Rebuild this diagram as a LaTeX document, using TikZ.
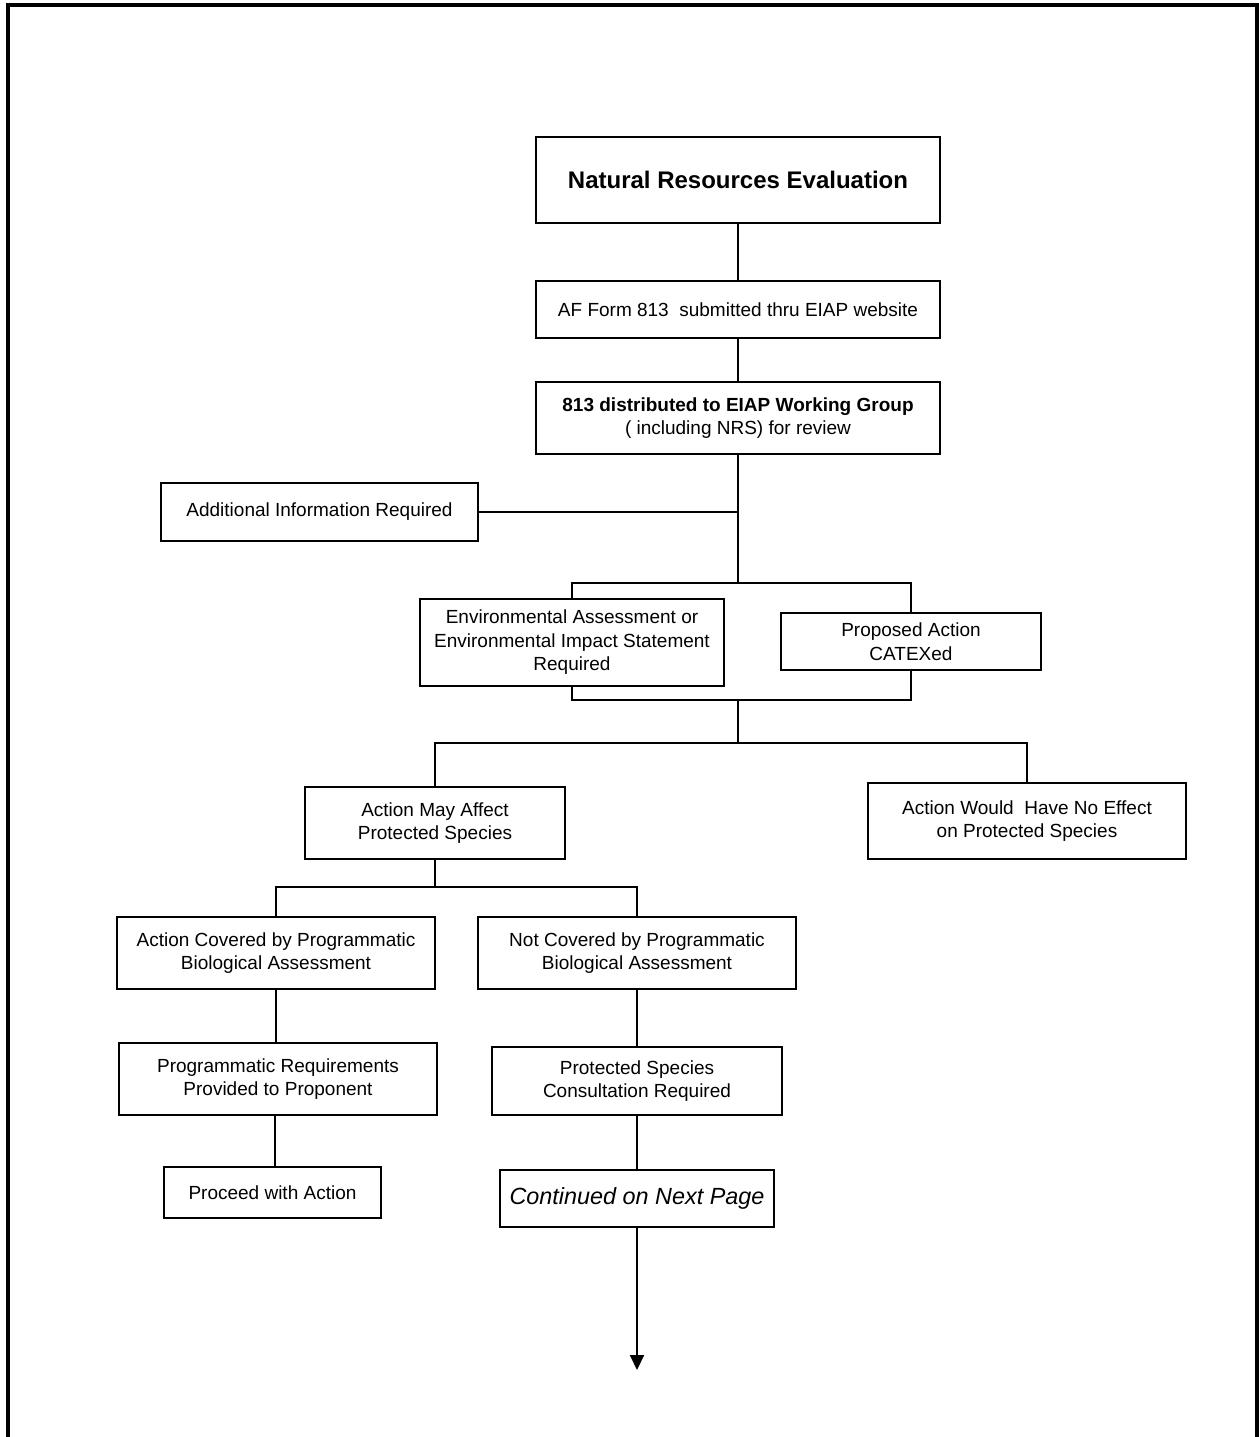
\documentclass[tikz,border=0pt]{standalone}
\usepackage{fontspec}
\setmainfont{Liberation Sans}
\usetikzlibrary{arrows.meta}

\begin{document}
\begin{tikzpicture}[x=0.5pt,y=-0.5pt,
  box/.style={draw,line width=1pt,align=center,inner sep=0pt,font=\fontsize{9.5}{11.75}\selectfont},
  link/.style={line width=1pt}]
\useasboundingbox (0,0) rectangle (1259,1437);
% page frame, open at the bottom
\draw[line width=2pt] (7.5,1437) -- (7.5,4.5) -- (1257,4.5) -- (1257,1437);

\node[box,minimum width=202pt,minimum height=43pt,font=\fontsize{12}{14}\selectfont\bfseries] at (738,180) (nre) {Natural Resources Evaluation};
\node[box,minimum width=202pt,minimum height=28.5pt] at (738,309.5) (form) {AF Form 813\ \ submitted thru EIAP website};
\node[box,minimum width=202pt,minimum height=36pt] at (738,418) (dist) {\textbf{813 distributed to EIAP Working Group}\\( including NRS) for review};
\node[box,minimum width=158.5pt,minimum height=29pt] at (319.5,512) (info) {Additional Information Required};
\node[box,minimum width=152pt,minimum height=43.5pt] at (572,642.5) (ea) {Environmental Assessment or\\Environmental Impact Statement\\Required};
\node[box,minimum width=130pt,minimum height=28.5pt] at (911,641.5) (catex) {Proposed Action\\CATEXed};
\node[box,minimum width=130pt,minimum height=36pt] at (435,823) (affect) {Action May Affect\\Protected Species};
\node[box,minimum width=159pt,minimum height=38pt] at (1027,821) (noeff) {Action Would\ \ Have No Effect\\on Protected Species};
\node[box,minimum width=159pt,minimum height=36pt] at (276,953) (covered) {Action Covered by Programmatic\\Biological Assessment};
\node[box,minimum width=159pt,minimum height=36pt] at (637,953) (notcov) {Not Covered by Programmatic\\Biological Assessment};
\node[box,minimum width=159pt,minimum height=36pt] at (278,1079) (progreq) {Programmatic Requirements\\Provided to Proponent};
\node[box,minimum width=145pt,minimum height=34pt] at (637,1081) (consult) {Protected Species\\Consultation Required};
\node[box,minimum width=108.5pt,minimum height=25.5pt] at (272.5,1192.5) (proceed) {Proceed with Action};
\node[box,minimum width=137pt,minimum height=28.5pt,font=\fontsize{11.7}{13}\selectfont\itshape] at (637,1198.5) (cont) {Continued on Next Page};

\coordinate (top) at (738,583);
\coordinate (bot) at (738,700);
\coordinate (fork1) at (738,743);
\coordinate (fork2) at (435,887);
\coordinate (next) at (637,1370);

\draw[link] (nre) -- (form);
\draw[link] (form) -- (dist);
\draw[link] (dist) -- (top);
\draw[link] (info) -- (info -| dist);
\draw[link] (ea.north) |- (top) -| (catex.north);
\draw[link] (ea.south) |- (bot) -| (catex.south);
\draw[link] (bot) -- (fork1);
\draw[link] (affect.north) |- (fork1) -| (noeff.north);
\draw[link] (affect) -- (fork2);
\draw[link] (covered.north) |- (fork2) -| (notcov.north);
\draw[link] (covered.south) -- (covered.south |- progreq.north);
\draw[link] (progreq.south) ++(-3,0) coordinate (pr) -- (pr |- proceed.north);
\draw[link] (notcov) -- (consult);
\draw[link] (consult) -- (cont);
\draw[link,-{Triangle[width=7pt,length=7.5pt]}] (cont) -- (next);
\end{tikzpicture}
\end{document}
